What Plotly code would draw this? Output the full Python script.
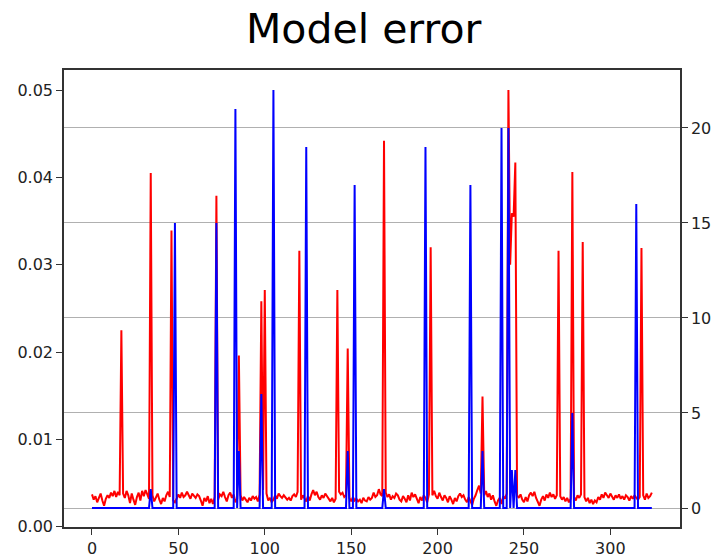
import plotly.graph_objects as go

# Red series: model error (left axis), one value per step 0..324
red_error = [
    0.0037, 0.0031, 0.0035, 0.0028, 0.0033, 0.0038, 0.0030, 0.0024, 0.0032, 0.0036,
    0.0033, 0.0039, 0.0035, 0.0041, 0.0034, 0.0040, 0.0036, 0.0225, 0.0038, 0.0033,
    0.0041, 0.0036, 0.0027, 0.0038, 0.0031, 0.0025, 0.0034, 0.0039, 0.0030, 0.0041,
    0.0035, 0.0042, 0.0037, 0.0032, 0.0405, 0.0036, 0.0029, 0.0034, 0.0038, 0.0031,
    0.0026, 0.0033, 0.0029, 0.0036, 0.0040, 0.0034, 0.0339, 0.0030, 0.0028, 0.0032,
    0.0037, 0.0033, 0.0039, 0.0034, 0.0036, 0.0040, 0.0035, 0.0032, 0.0038, 0.0036,
    0.0033, 0.0037, 0.0035, 0.0030, 0.0024, 0.0033, 0.0029, 0.0035, 0.0027, 0.0032,
    0.0026, 0.0034, 0.0379, 0.0031, 0.0037, 0.0035, 0.0040, 0.0034, 0.0029, 0.0036,
    0.0039, 0.0033, 0.0037, 0.0028, 0.0032, 0.0196, 0.0036, 0.0030, 0.0034, 0.0031,
    0.0028, 0.0033, 0.0030, 0.0035, 0.0032, 0.0034, 0.0029, 0.0037, 0.0258, 0.0042,
    0.0271, 0.0038, 0.0030, 0.0033, 0.0028, 0.0031, 0.0036, 0.0032, 0.0038, 0.0035,
    0.0033, 0.0036, 0.0034, 0.0031, 0.0033, 0.0030, 0.0035, 0.0037, 0.0034, 0.0040,
    0.0316, 0.0031, 0.0036, 0.0033, 0.0029, 0.0035, 0.0030, 0.0037, 0.0042, 0.0036,
    0.0040, 0.0034, 0.0031, 0.0036, 0.0033, 0.0038, 0.0035, 0.0031, 0.0029, 0.0033,
    0.0028, 0.0032, 0.0271, 0.0040, 0.0037, 0.0039, 0.0034, 0.0036, 0.0204, 0.0033,
    0.0029, 0.0034, 0.0030, 0.0032, 0.0029, 0.0031, 0.0027, 0.0033, 0.0030, 0.0029,
    0.0034, 0.0031, 0.0033, 0.0039, 0.0034, 0.0036, 0.0043, 0.0037, 0.0035, 0.0442,
    0.0039, 0.0034, 0.0037, 0.0031, 0.0035, 0.0033, 0.0038, 0.0036, 0.0031, 0.0029,
    0.0035, 0.0032, 0.0028, 0.0036, 0.0030, 0.0039, 0.0034, 0.0037, 0.0031, 0.0027,
    0.0034, 0.0030, 0.0036, 0.0033, 0.0028, 0.0037, 0.0320, 0.0036, 0.0041, 0.0035,
    0.0032, 0.0039, 0.0034, 0.0030, 0.0036, 0.0033, 0.0028, 0.0035, 0.0031, 0.0026,
    0.0033, 0.0029, 0.0035, 0.0038, 0.0034, 0.0036, 0.0031, 0.0028, 0.0034, 0.0030,
    0.0025, 0.0032, 0.0036, 0.0042, 0.0047, 0.0038, 0.0149, 0.0036, 0.0041, 0.0034,
    0.0038, 0.0031, 0.0036, 0.0029, 0.0024, 0.0030, 0.0033, 0.0026, 0.0035, 0.0032,
    0.0038, 0.0500, 0.0300, 0.0359, 0.0355, 0.0417, 0.0036, 0.0033, 0.0037, 0.0031,
    0.0028, 0.0034, 0.0029, 0.0036, 0.0039, 0.0035, 0.0040, 0.0033, 0.0028, 0.0024,
    0.0031, 0.0035, 0.0030, 0.0037, 0.0033, 0.0039, 0.0034, 0.0037, 0.0032, 0.0036,
    0.0316, 0.0035, 0.0031, 0.0034, 0.0029, 0.0033, 0.0028, 0.0032, 0.0406, 0.0034,
    0.0030, 0.0036, 0.0033, 0.0037, 0.0326, 0.0034, 0.0029, 0.0033, 0.0027, 0.0031,
    0.0026, 0.0030, 0.0028, 0.0034, 0.0031, 0.0037, 0.0033, 0.0039, 0.0036, 0.0033,
    0.0038, 0.0035, 0.0031, 0.0036, 0.0033, 0.0037, 0.0032, 0.0035, 0.0031, 0.0036,
    0.0034, 0.0030, 0.0035, 0.0032, 0.0036, 0.0033, 0.0031, 0.0034, 0.0319, 0.0036,
    0.0031, 0.0038, 0.0033, 0.0035, 0.0039,
]

# Blue series (right axis): zero except at these steps
blue_steps = [34, 48, 72, 83, 85, 98, 105, 124, 148, 152, 169, 193, 219, 226, 237, 241, 243, 245, 278, 315]
blue_counts = [1, 15, 15, 21, 3, 6, 22, 19, 3, 17, 1, 19, 17, 3, 20, 20, 2, 2, 5, 16]

steps = list(range(len(red_error)))
blue = [0] * len(steps)
for s, c in zip(blue_steps, blue_counts):
    blue[s] = c

left_ticks = [0.00, 0.01, 0.02, 0.03, 0.04, 0.05]
right_ticks = [0, 5, 10, 15, 20]
x_ticks = [0, 50, 100, 150, 200, 250, 300]

fig = go.Figure()
fig.add_trace(go.Scatter(x=steps, y=red_error, mode="lines",
                         line=dict(color="#ff0000", width=2), yaxis="y", showlegend=False))
fig.add_trace(go.Scatter(x=steps, y=blue, mode="lines",
                         line=dict(color="#0000ff", width=2), yaxis="y2", showlegend=False))

axis_font = dict(family="DejaVu Sans", size=16, color="#222222")
fig.update_layout(
    width=715, height=558,
    margin=dict(l=64, r=35, t=70, b=31),
    paper_bgcolor="white", plot_bgcolor="white",
    font=dict(family="DejaVu Sans", color="#222222"),
    xaxis=dict(range=[-16.2, 340.3], tickvals=x_ticks, ticktext=[str(v) for v in x_ticks],
               showgrid=False, zeroline=False, showline=True, mirror=True,
               linecolor="#333333", linewidth=1.5, ticks="outside", ticklen=6,
               tickcolor="#333333", tickfont=axis_font, automargin=False),
    yaxis=dict(range=[-0.00003, 0.05229], tickvals=left_ticks,
               ticktext=[f"{v:.2f}" for v in left_ticks],
               showgrid=False, zeroline=False, showline=True,
               linecolor="#333333", linewidth=1.5, ticks="outside", ticklen=6,
               tickcolor="#333333", tickfont=axis_font, automargin=False),
    yaxis2=dict(range=[-1.0, 23.05], tickvals=right_ticks,
                ticktext=[str(v) for v in right_ticks],
                overlaying="y", side="right",
                showgrid=True, gridcolor="#b0b0b0", gridwidth=1, zeroline=False,
                showline=True, linecolor="#333333", linewidth=1.5,
                ticks="outside", ticklen=6, tickcolor="#333333", tickfont=axis_font,
                automargin=False),
    annotations=[dict(text="Model error", xref="paper", yref="paper",
                      x=0.487, y=1.0897, xanchor="center", yanchor="middle",
                      showarrow=False, font=dict(family="DejaVu Sans", size=41, color="black"))],
)

fig.write_html("out.html", config={"displayModeBar": False},
               post_script="document.body.style.margin='0';")
